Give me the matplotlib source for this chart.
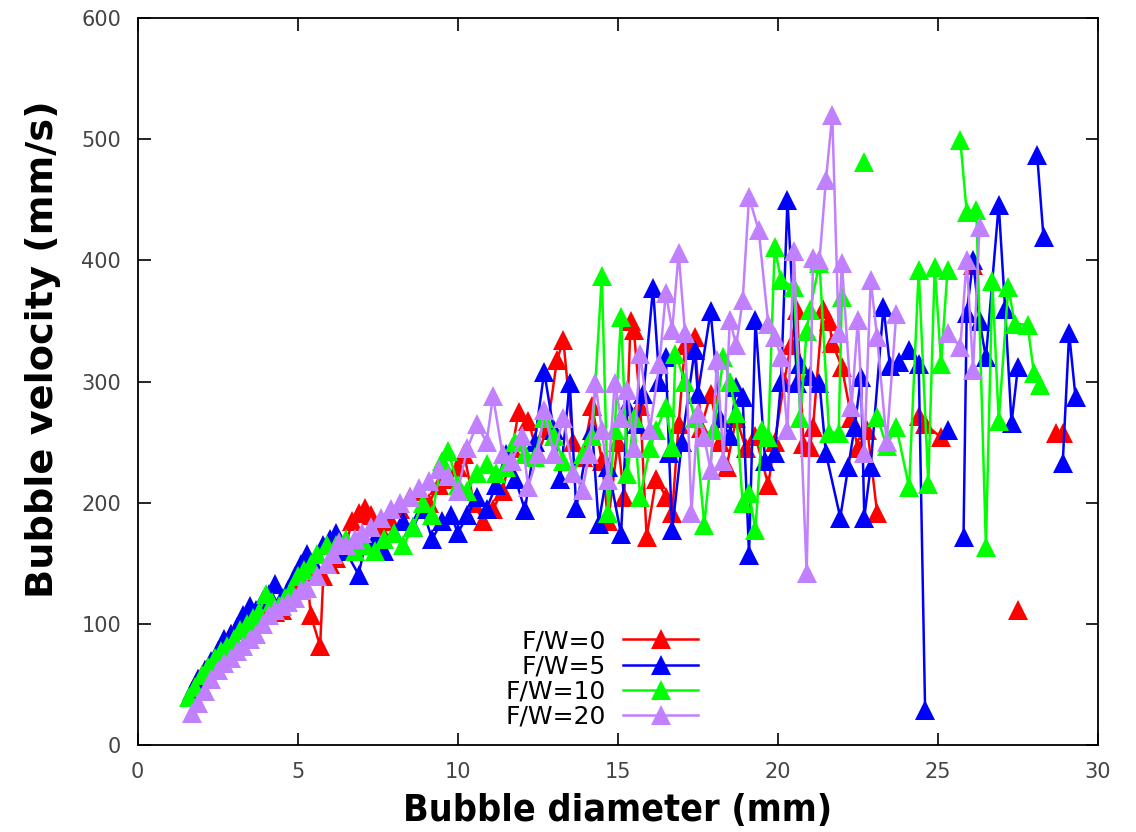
import numpy as np
import matplotlib
matplotlib.use('Agg')
import matplotlib.pyplot as plt
from matplotlib import font_manager

nan = np.nan

# F/W = 0
x_fw0 = [1.8, 1.9, 2.0, 2.1, 2.3, 2.5, 2.7, 2.9, 3.1, 3.3, 3.5, 3.7, 3.9, 4.1, 4.3, 4.5, 4.7, 4.9, 5.1, 5.3,
         5.4, 5.7, 5.8, 6.0, 6.2, 6.5, 6.7, 6.9, 7.1, 7.3, 7.6, 7.9, 8.2, 8.5, 8.8, 9.1, 9.4, 9.7, 10.0, 10.2,
         10.5, 10.8, 11.1, 11.4, 11.7, 11.9, 12.2, 12.5, 12.8, 13.1, 13.3, 13.6, 13.9, 14.2, 14.5, 14.7, 15.0, 15.2, 15.4, 15.5,
         15.7, 15.9, 16.2, 16.5, 16.7, 16.9, 17.1, 17.4, 17.6, 17.9, 18.2, 18.4, 18.7, 19.0, 19.3, 19.7, 19.9, 20.2, 20.4, 20.6,
         20.8, 21.0, 21.1, 21.4, 21.6, 21.7, 22.0, 22.3, 22.5, 22.8, 23.1, nan, 24.4, 24.6, 25.1, nan, 26.1, nan, 27.5, nan,
         28.7, 28.9]
y_fw0 = [50, 55, 58, 62, 68, 75, 85, 92, 95, 100, 103, 106, 112, 115, 110, 112, 125, 130, 136, 142,
         108, 82, 140, 150, 155, 165, 185, 192, 196, 190, 178, 185, 195, 205, 210, 200, 215, 220, 230, 240,
         200, 185, 195, 210, 245, 275, 268, 240, 262, 318, 334, 250, 238, 280, 235, 185, 250, 205, 350, 343,
         280, 172, 220, 205, 192, 265, 330, 337, 262, 290, 250, 230, 270, 245, 255, 215, 250, 300, 330, 359,
         249, 246, 263, 360, 350, 332, 312, 270, 245, 260, 192, nan, 272, 265, 254, nan, 396, nan, 112, nan,
         258, 258]

# F/W = 5
x_fw5 = [1.7, 1.9, 2.1, 2.3, 2.5, 2.7, 2.9, 3.1, 3.3, 3.5, 3.7, 3.9, 4.1, 4.3, 4.5, 4.7, 4.9, 5.1, 5.3, 5.5,
         5.8, 6.0, 6.2, 6.5, 6.9, 7.1, 7.4, 7.7, 8.0, 8.3, 8.6, 8.9, 9.2, 9.5, 9.8, 10.0, 10.3, 10.6, 10.9, 11.2,
         11.5, 11.8, 12.1, 12.4, 12.7, 13.0, 13.2, 13.5, 13.7, 14.0, 14.2, 14.4, 14.7, 15.1, 15.3, 15.6, 15.8, 16.1, 16.3, 16.5,
         16.6, 16.7, 17.0, 17.4, 17.5, 17.9, 18.2, 18.5, 18.7, 18.9, 19.1, 19.3, 19.6, 19.9, 20.1, 20.3, 20.6, 20.7, 21.0, 21.3,
         21.5, 21.95, 22.2, 22.4, 22.6, 22.7, 22.9, 23.3, 23.5, 23.8, 24.1, 24.4, 24.6, nan, 25.3, nan, 25.8, 25.9, 26.1, 26.3,
         26.5, 26.9, 27.1, 27.3, 27.5, nan, 28.1, 28.3, nan, 28.9, 29.1, 29.3]
y_fw5 = [45, 55, 62, 70, 78, 88, 92, 98, 108, 115, 112, 120, 125, 133, 122, 128, 140, 150, 158, 150,
         165, 170, 175, 160, 141, 165, 170, 160, 175, 185, 180, 195, 170, 185, 190, 175, 190, 205, 195, 215,
         240, 220, 194, 250, 308, 260, 220, 299, 196, 240, 260, 183, 230, 174, 280, 265, 290, 377, 300, 320,
         241, 178, 250, 326, 290, 358, 270, 255, 296, 287, 157, 351, 235, 241, 300, 450, 299, 315, 305, 299,
         241, 188, 230, 263, 304, 188, 230, 362, 313, 316, 326, 315, 29, nan, 260, nan, 172, 357, 400, 350,
         320, 446, 360, 266, 312, nan, 487, 419, nan, 233, 340, 287]

# F/W = 10
x_fw10 = [1.6, 1.8, 2.0, 2.2, 2.4, 2.6, 2.8, 3.0, 3.2, 3.4, 3.6, 3.8, 4.0, 4.2, 4.4, 4.6, 4.8, 5.0, 5.2, 5.4,
          5.6, 5.9, 6.2, 6.5, 6.8, 7.1, 7.4, 7.7, 8.0, 8.3, 8.6, 8.9, 9.2, 9.5, 9.7, 10.0, 10.3, 10.6, 10.9, 11.2,
          11.5, 11.8, 12.1, 12.4, 12.7, 13.0, 13.3, 13.6, 13.9, 14.2, 14.5, 14.7, 14.9, 15.1, 15.3, 15.5, 15.7, 16.0, 16.2, 16.5,
          16.7, 16.8, 17.1, 17.4, 17.7, 18.0, 18.3, 18.5, 18.7, 18.9, 19.1, 19.3, 19.5, 19.7, 19.9, 20.1, 20.5, 20.7, 20.9, 21.0,
          21.3, 21.6, 21.9, 22.0, nan, 22.7, nan, 23.1, 23.4, 23.7, 24.1, 24.4, 24.7, 24.9, 25.1, 25.3, nan, 25.7, 25.9, 26.2,
          26.5, 26.7, 26.9, 27.2, 27.4, 27.8, 28.0, 28.2]
y_fw10 = [40, 48, 58, 65, 72, 78, 82, 88, 95, 100, 105, 110, 125, 118, 115, 122, 128, 140, 145, 150,
          158, 165, 165, 170, 160, 165, 160, 170, 175, 165, 180, 200, 190, 235, 243, 215, 210, 225, 232, 225,
          230, 250, 240, 238, 270, 255, 235, 225, 240, 255, 387, 192, 260, 353, 224, 270, 205, 245, 260, 279,
          246, 323, 300, 270, 182, 260, 320, 300, 274, 200, 208, 178, 260, 254, 411, 384, 378, 270, 342, 359,
          398, 258, 258, 370, nan, 481, nan, 271, 247, 263, 213, 392, 216, 395, 315, 392, nan, 499, 440, 442,
          164, 383, 268, 378, 348, 347, 307, 297]

# F/W = 20
x_fw20 = [1.7, 1.9, 2.1, 2.3, 2.5, 2.7, 2.9, 3.1, 3.3, 3.5, 3.7, 3.9, 4.1, 4.3, 4.5, 4.7, 4.9, 5.1, 5.3, 5.6,
          5.9, 6.1, 6.3, 6.5, 6.8, 7.0, 7.3, 7.6, 7.9, 8.2, 8.5, 8.8, 9.1, 9.4, 9.7, 10.0, 10.3, 10.6, 10.9, 11.1,
          11.4, 11.7, 12.0, 12.2, 12.5, 12.7, 13.0, 13.3, 13.6, 13.9, 14.1, 14.3, 14.5, 14.7, 14.9, 15.1, 15.3, 15.5, 15.7, 16.0,
          16.3, 16.5, 16.7, 16.9, 17.1, 17.3, 17.5, 17.7, 17.9, 18.1, 18.3, 18.5, 18.7, 18.9, 19.1, 19.4, 19.7, 19.9, 20.1, 20.3,
          20.5, 20.9, 21.1, 21.3, 21.5, 21.7, 21.9, 22.0, 22.3, 22.5, 22.7, 22.9, 23.1, 23.4, 23.7, nan, 25.3, 25.7, 25.9, 26.1,
          26.3]
y_fw20 = [27, 35, 45, 55, 62, 68, 72, 78, 82, 88, 92, 100, 108, 112, 115, 118, 122, 128, 130, 140,
          150, 158, 168, 165, 170, 175, 180, 188, 195, 200, 205, 212, 218, 228, 222, 210, 245, 265, 250, 288,
          240, 235, 255, 213, 240, 277, 240, 270, 225, 211, 240, 299, 260, 219, 299, 270, 293, 245, 323, 260,
          315, 373, 343, 406, 340, 192, 274, 254, 227, 318, 235, 351, 330, 367, 452, 425, 348, 337, 320, 260,
          408, 142, 402, 400, 466, 520, 340, 398, 279, 351, 241, 384, 337, 250, 356, nan, 340, 329, 400, 310,
          428]

series = [
    ('F/W=0', x_fw0, y_fw0, '#ff0000'),
    ('F/W=5', x_fw5, y_fw5, '#0000ff'),
    ('F/W=10', x_fw10, y_fw10, '#00ff00'),
    ('F/W=20', x_fw20, y_fw20, '#c080ff'),
]

fig = plt.figure(figsize=(11.36, 8.32), dpi=100)
ax = fig.add_axes([0.1212, 0.1040, 0.8453, 0.8744])

for label, xs, ys, col in series:
    ax.plot(xs, ys, color=col, lw=1.8, marker='^', markersize=14,
            markeredgewidth=0, label=label)

ax.set_xlim(0, 30)
ax.set_ylim(0, 600)
ax.set_xticks(range(0, 31, 5))
ax.set_yticks(range(0, 601, 100))
ax.tick_params(direction='in', length=9, width=1.2, top=True, right=True,
               labelsize=15, labelcolor='#444444', pad=12)
for sp in ax.spines.values():
    sp.set_linewidth(1.3)

# x label looks condensed in the original
fp_cond = font_manager.FontProperties(family='DejaVu Sans', weight='bold', stretch='condensed')
if 'Condensed' in font_manager.findfont(fp_cond):
    ax.set_xlabel('Bubble diameter (mm)', fontsize=27, fontweight='bold', fontstretch='condensed')
else:
    ax.set_xlabel('Bubble diameter (mm)', fontsize=24, fontweight='bold')
ax.xaxis.set_label_coords(0.5, -0.066)
ax.set_ylabel('Bubble velocity (mm/s)', fontsize=27.5, fontweight='bold')
ax.yaxis.set_label_coords(-0.080, 0.545)

ax.legend(loc='center', bbox_to_anchor=(602 / 1136, 1 - 679 / 832), bbox_transform=fig.transFigure,
          frameon=False, markerfirst=False, fontsize=18, numpoints=1, handlelength=3.0,
          handletextpad=0.7, labelspacing=0.05, borderpad=0)

fig.savefig('out.png', dpi=100)
